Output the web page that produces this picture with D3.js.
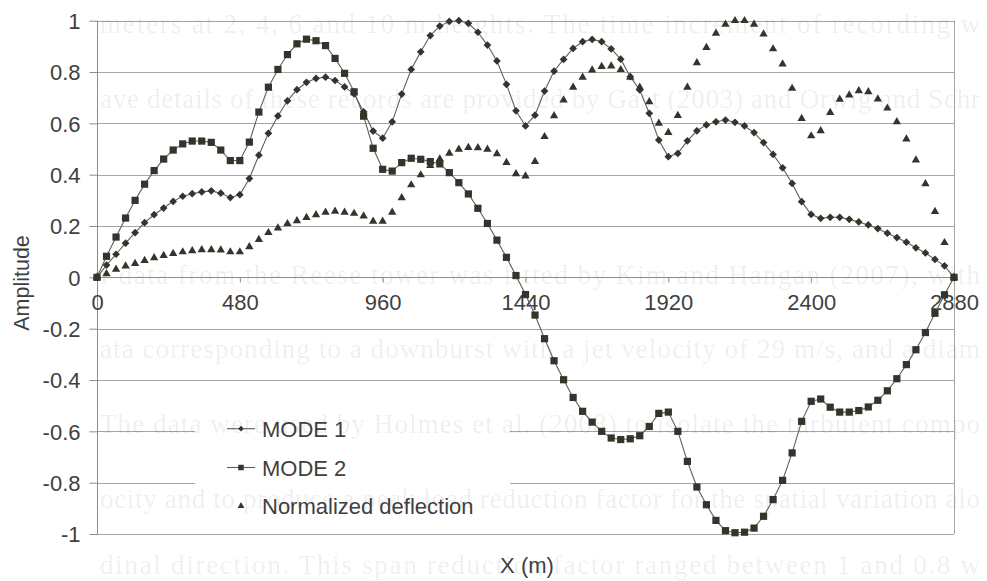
<!DOCTYPE html>
<html>
<head>
<meta charset="utf-8">
<script src="https://cdn.jsdelivr.net/npm/d3@7"></script>
<style>
  body { margin: 0; background: #fff; }
  svg { display: block; }
</style>
</head>
<body>
<svg id="chart" width="987" height="581"></svg>
<script>
// ---------------- data ----------------
const xPositions = [0,32,64,96,128,160,192,224,256,288,320,352,384,416,448,480,512,544,576,608,640,672,704,736,768,800,832,864,896,928,960,992,1024,1056,1088,1120,1152,1184,1216,1248,1280,1312,1344,1376,1408,1440,1472,1504,1536,1568,1600,1632,1664,1696,1728,1760,1792,1824,1856,1888,1920,1952,1984,2016,2048,2080,2112,2144,2176,2208,2240,2272,2304,2336,2368,2400,2432,2464,2496,2528,2560,2592,2624,2656,2688,2720,2752,2784,2816,2848,2880];

const mode1 = [0,0.048,0.09,0.133,0.174,0.213,0.244,0.27,0.296,0.316,
  0.326,0.333,0.337,0.328,0.311,0.322,0.385,0.476,0.561,0.629,
  0.688,0.731,0.76,0.775,0.78,0.767,0.742,0.715,0.645,0.57,
  0.542,0.606,0.714,0.81,0.879,0.942,0.979,0.997,1.0,0.99,
  0.955,0.905,0.843,0.752,0.649,0.59,0.632,0.726,0.804,0.849,
  0.892,0.918,0.927,0.918,0.89,0.85,0.782,0.73,0.639,0.535,
  0.47,0.483,0.532,0.571,0.594,0.606,0.613,0.604,0.59,0.564,
  0.525,0.479,0.427,0.366,0.295,0.245,0.23,0.234,0.234,0.226,
  0.216,0.204,0.19,0.172,0.155,0.137,0.115,0.095,0.07,0.045,
  0];

const mode2 = [0,0.082,0.157,0.231,0.30,0.363,0.416,0.461,0.496,0.52,
  0.531,0.531,0.526,0.496,0.455,0.455,0.527,0.644,0.741,0.81,
  0.868,0.91,0.928,0.922,0.903,0.853,0.795,0.723,0.628,0.503,
  0.421,0.414,0.447,0.464,0.46,0.451,0.442,0.408,0.369,0.325,
  0.269,0.21,0.145,0.078,0.007,-0.067,-0.147,-0.239,-0.325,-0.399,
  -0.468,-0.522,-0.564,-0.6,-0.626,-0.632,-0.629,-0.617,-0.581,-0.53,
  -0.525,-0.6,-0.717,-0.817,-0.886,-0.947,-0.987,-0.995,-0.993,-0.977,
  -0.931,-0.866,-0.791,-0.684,-0.561,-0.483,-0.474,-0.506,-0.525,-0.525,
  -0.519,-0.505,-0.479,-0.442,-0.395,-0.34,-0.282,-0.215,-0.14,-0.068,
  0];

const deflection = [0,0.014,0.031,0.044,0.054,0.065,0.076,0.085,0.093,0.099,
  0.103,0.107,0.107,0.106,0.099,0.099,0.119,0.147,0.174,0.192,
  0.209,0.22,0.233,0.244,0.253,0.257,0.253,0.249,0.239,0.218,
  0.218,0.253,0.31,0.36,0.399,0.435,0.461,0.483,0.499,0.506,
  0.505,0.499,0.481,0.447,0.403,0.395,0.451,0.548,0.629,0.691,
  0.74,0.779,0.808,0.821,0.823,0.809,0.779,0.74,0.684,0.6,
  0.564,0.63,0.74,0.836,0.895,0.951,0.986,1.0,1.0,0.986,
  0.948,0.89,0.831,0.736,0.619,0.551,0.571,0.642,0.694,0.71,
  0.727,0.723,0.695,0.659,0.606,0.539,0.457,0.364,0.256,0.135,
  0];

const xTicks = [0,480,960,1440,1920,2400,2880];
const xTickLabels = ["0","480","960","1440","1920","2400","2880"];
const yTicks = [-1,-0.8,-0.6,-0.4,-0.2,0,0.2,0.4,0.6,0.8,1];
const yTickLabels = ["-1","-0.8","-0.6","-0.4","-0.2","0","0.2","0.4","0.6","0.8","1"];
const seriesNames = ["MODE 1","MODE 2","Normalized deflection"];
const xTitle = "X (m)";
const yTitle = "Amplitude";

// faint text of the scanned page showing through
const pageLines = [
  "meters at 2, 4, 6 and 10 m heights. The time increment of recording w",
  "ave details of these records are provided by Gast (2003) and Orwig and Schr",
  "f data from the Reese tower was fitted by Kim and Hangan (2007), with",
  "ata corresponding to a downburst with a jet velocity of 29 m/s, and a diam",
  "The data were used by Holmes et al. (2008) to isolate the turbulent compo",
  "ocity and to produce a peak load reduction factor for the spatial variation alo",
  "dinal direction. This span reduction factor ranged between 1 and 0.8 w"
];
const pageLineY = [33, 108, 284, 358, 433, 508, 574];

// ---------------- drawing ----------------
const svg = d3.select("#chart");
const W = 987, H = 581;
const FONT = "'Liberation Sans', Arial, Helvetica, sans-serif";
const TEXT = "#3f3f3f";
const MARK = "#33352a";
const LINE = "#5e5e5e";

const x = d3.scaleLinear().domain([0, 2880]).range([97, 954]);
const y = d3.scaleLinear().domain([-1, 1]).range([534, 20.7]);

svg.append("rect").attr("width", W).attr("height", H).attr("fill", "#fff");

// gridlines
svg.append("g").selectAll("line").data(yTicks).join("line")
  .attr("x1", x(0)).attr("x2", x(2880))
  .attr("y1", d => Math.round(y(d)) + 0.5).attr("y2", d => Math.round(y(d)) + 0.5)
  .attr("stroke", "#a4a4a4").attr("stroke-width", 1);

// legend background (hides gridlines)
svg.append("rect").attr("x", 195).attr("y", 398).attr("width", 315).attr("height", 126)
  .attr("fill", "#fff");

// faint page text
svg.append("g").selectAll("text").data(pageLines).join("text")
  .attr("x", 100).attr("y", (d, i) => pageLineY[i])
  .attr("textLength", 880).attr("lengthAdjust", "spacing")
  .attr("font-family", "'Liberation Serif', 'Times New Roman', serif")
  .attr("font-size", 27)
  .attr("fill", "#000").attr("fill-opacity", 0.075)
  .text(d => d);

// left axis line & right border
svg.append("line").attr("x1", 97.5).attr("x2", 97.5).attr("y1", y(1)).attr("y2", y(-1))
  .attr("stroke", "#8c8c8c");
svg.append("line").attr("x1", 954.5).attr("x2", 954.5).attr("y1", y(1)).attr("y2", y(-1))
  .attr("stroke", "#a4a4a4");

// y axis
const yAxis = d3.axisLeft(y).tickValues(yTicks)
  .tickFormat((d, i) => yTickLabels[i]).tickSize(8).tickPadding(10);
const gy = svg.append("g").attr("transform", "translate(97.5,0)").call(yAxis);
gy.select(".domain").remove();
gy.selectAll(".tick line").attr("stroke", "#8c8c8c");
gy.selectAll(".tick text").attr("font-family", FONT).attr("font-size", 22)
  .attr("fill", TEXT).attr("dy", "0.36em").attr("x", -17);

// x axis at y = 0
const xAxis = d3.axisBottom(x).tickValues(xTicks)
  .tickFormat((d, i) => xTickLabels[i]).tickSize(5).tickPadding(16);
const gx = svg.append("g").attr("transform", `translate(0,${Math.round(y(0)) + 0.5})`).call(xAxis);
gx.select(".domain").attr("stroke", "#8c8c8c").attr("d", `M${x(0)},0H${x(2880)}`);
gx.selectAll(".tick line").attr("stroke", "#8c8c8c");
gx.selectAll(".tick text").attr("font-family", FONT).attr("font-size", 22)
  .attr("fill", TEXT).attr("dy", "0.5em");

// axis titles
svg.append("text").attr("transform", "translate(29,283) rotate(-90)")
  .attr("text-anchor", "middle").attr("font-family", FONT).attr("font-size", 21.5)
  .attr("fill", TEXT).text(yTitle);
svg.append("text").attr("x", 527).attr("y", 573)
  .attr("text-anchor", "middle").attr("font-family", FONT).attr("font-size", 22)
  .attr("fill", TEXT).text(xTitle);

// series
const pts = s => xPositions.map((xv, i) => [xv, s[i]]);
const lineGen = d3.line().x(d => x(d[0])).y(d => y(d[1]));

const diamond = d3.symbol().type(d3.symbolSquare).size(30)();
const square = d3.symbol().type(d3.symbolSquare).size(52)();
const triangle = d3.symbol().type(d3.symbolTriangle).size(30)();

function drawLine(data) {
  svg.append("path").attr("d", lineGen(data)).attr("fill", "none")
    .attr("stroke", LINE).attr("stroke-width", 1.1);
}
function drawMarks(data, path, rotate) {
  svg.append("g").selectAll("path").data(data).join("path")
    .attr("d", path)
    .attr("transform", d => `translate(${x(d[0])},${y(d[1])})${rotate ? " rotate(45)" : ""}`)
    .attr("fill", MARK);
}

const d1 = pts(mode1), d2 = pts(mode2), d3p = pts(deflection);
drawLine(d1);
drawLine(d2);
drawMarks(d3p, triangle, false);
drawMarks(d1, diamond, true);
drawMarks(d2, square, false);

// legend
const legendY = [428.7, 467.5, 506];
const legendMarks = [[diamond, true, 16], [square, false, 30], [triangle, false, 20]];
seriesNames.forEach((name, i) => {
  const ly = legendY[i];
  if (i < 2) {
    svg.append("line").attr("x1", 227).attr("x2", 255).attr("y1", ly).attr("y2", ly)
      .attr("stroke", LINE).attr("stroke-width", 1.1);
  }
  svg.append("path")
    .attr("d", d3.symbol().type(i === 2 ? d3.symbolTriangle : d3.symbolSquare).size(legendMarks[i][2])())
    .attr("transform", `translate(241,${ly})${legendMarks[i][1] ? " rotate(45)" : ""}`)
    .attr("fill", MARK);
  svg.append("text").attr("x", 262).attr("y", ly + 8)
    .attr("font-family", FONT).attr("font-size", 22).attr("fill", TEXT).text(name);
});
</script>
</body>
</html>
